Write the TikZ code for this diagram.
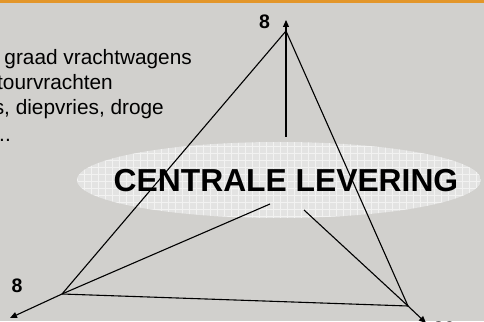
\documentclass[tikz,border=0pt]{standalone}
\usepackage{fontspec}
\setmainfont{Liberation Sans}
\usetikzlibrary{arrows.meta}
\definecolor{slidegray}{HTML}{D1D0CD}
\definecolor{barorange}{HTML}{E3962A}
\definecolor{ovalgray}{HTML}{E3E3E2}
\tikzset{
  link/.style={line width=1.1pt},
  flow/.style={line width=1.1pt, -{Triangle[length=7pt,width=6pt]}},
  amount/.style={font=\fontsize{19.5}{20}\selectfont\bfseries, inner sep=0pt},
  note/.style={font=\fontsize{20.8}{24}\selectfont, inner sep=0pt, anchor=base east}
}
\begin{document}
\begin{tikzpicture}[x=1pt,y=1pt]
      \useasboundingbox (0,0) rectangle (484,321);
      \clip (0,0) rectangle (484,321);
      \fill[slidegray] (0,0) rectangle (484,321);
      \fill[barorange] (0,318) rectangle (484,321);
      \coordinate (T) at (286,290);
      \coordinate (L) at (62,27);
      \coordinate (R) at (408,15);
      \coordinate (Ttip) at (286,301);
      \coordinate (Ltip) at (10,3);
      \coordinate (Rtip) at (426,-2);
      \coordinate (Tend) at (286,184);
      \coordinate (Lend) at (270,117);
      \coordinate (Rend) at (304,111);
      \begin{scope}
        \clip (279,141) ellipse [x radius=202, y radius=38];
        \fill[ovalgray] (279,141) ellipse [x radius=202, y radius=38];
        \draw[white, opacity=0.55, line width=0.5pt, step=7] (70,100) grid (490,185);
      \end{scope}
      \node[note] (line1) at (192,256) {graad vrachtwagens};
      \node[note] (line2) at (113,231) {tourvrachten};
      \node[note] (line3) at (164,206) {s, diepvries, droge};
      \node[note] (line4) at (11,179) {...};
      \node[font=\fontsize{31.8}{34}\selectfont\bfseries, inner sep=0pt] (centraal) at (286,140) {CENTRALE LEVERING};
      \node[amount] (numT) at (264.5,299) {8};
      \node[amount] (numL) at (17,35.5) {8};
      \node[amount] (numR) at (444,-8) {20};
      \draw[link] (L) -- (T) -- (R) -- (L);
      \draw[link] (T) -- (Tend);
      \draw[link] (L) -- (Lend);
      \draw[link] (R) -- (Rend);
      \draw[flow] (T) -- (Ttip);
      \draw[flow] (L) -- (Ltip);
      \draw[flow] (R) -- (Rtip);
    \end{tikzpicture}
\end{document}
